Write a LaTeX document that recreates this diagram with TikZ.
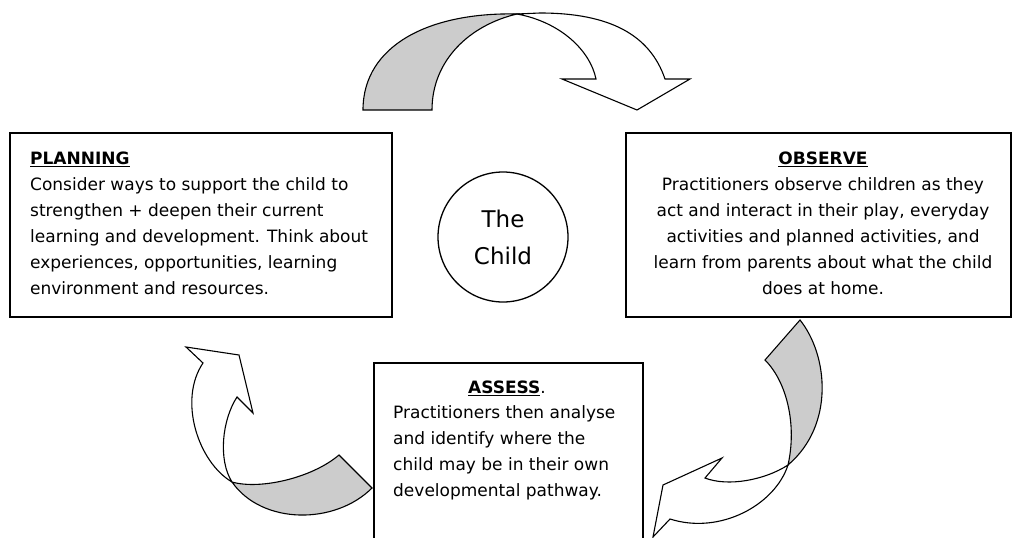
\documentclass[tikz,border=0pt]{standalone}
\usepackage{fontspec}
\setmainfont{DejaVu Sans}
\begin{document}
\begin{tikzpicture}[x=1pt,y=-1pt,
  box/.style={draw, line width=1.8pt, rectangle, anchor=north west, inner sep=0pt},
  ribbon/.style={draw, line width=1.1pt, line join=miter},
  back/.style={ribbon, fill=black!20},
  front/.style={ribbon, fill=white},
  txt/.style={font=\fontsize{17}{26}\selectfont, inner sep=0pt}]
\useasboundingbox (0,0) rectangle (1012,538);

% boxes
\node[box, minimum width=382pt, minimum height=184pt] (plan) at (9,132) {};
\node[box, minimum width=385pt, minimum height=184pt] (obs) at (625,132) {};
\node[box, minimum width=269pt, minimum height=220pt] (assess) at (373,362) {};
\node[draw, circle, line width=1.3pt, minimum size=130pt, inner sep=0pt] (child) at (503,237) {};

% texts
\node[txt, anchor=north west, align=left] (plantxt) at (30,152)
 {\underline{\textbf{PLANNING}}\\
  Consider ways to support the child to\\
  strengthen + deepen their current\\
  learning and development. Think about\\
  experiences, opportunities, learning\\
  environment and resources.};
\node[txt, anchor=north, align=center] (obstxt) at (823,152)
 {\underline{\textbf{OBSERVE}}\\
  Practitioners observe children as they\\
  act and interact in their play, everyday\\
  activities and planned activities, and\\
  learn from parents about what the child\\
  does at home.};
\node[txt, anchor=north] (asshead) at (507,381) {\underline{\textbf{ASSESS}}.};
\node[txt, anchor=north west, align=left] (asstxt) at (393,405)
 {Practitioners then analyse\\
  and identify where the\\
  child may be in their own\\
  developmental pathway.};
\node[font=\fontsize{23}{37}\selectfont, align=center, inner sep=0pt] (childtxt) at (child.center) {The\\Child};

% top arrow
\path[front] (517,14) .. controls (560,22) and (590,50) .. (596,79) -- (562,79) -- (637,110)
  -- (690,79) -- (665,79) .. controls (650,35) and (610,13) .. (540,13) -- cycle;
\path[back] (363,110) .. controls (363,45) and (430,12) .. (517,14)
  .. controls (470,25) and (432,60) .. (432,110) -- cycle;

% bottom left arrow
\path[front] (203,363) -- (186,347) -- (239,355) -- (253,413) -- (237,397)
  .. controls (222,420) and (218,460) .. (232,482)
  .. controls (198,462) and (178,400) .. (203,363) -- cycle;
\path[back] (232,482) .. controls (260,490) and (312,478) .. (339,455) -- (372,488)
  .. controls (335,525) and (262,525) .. (232,482) -- cycle;

% bottom right arrow
\path[front] (788,465) .. controls (765,480) and (728,487) .. (705,478) -- (722,458)
  -- (663,485) -- (653,537) -- (670,519) .. controls (720,535) and (775,505) .. (788,465) -- cycle;
\path[back] (800,320) .. controls (828,355) and (835,425) .. (788,465)
  .. controls (797,425) and (787,382) .. (765,360) -- cycle;
\end{tikzpicture}
\end{document}
